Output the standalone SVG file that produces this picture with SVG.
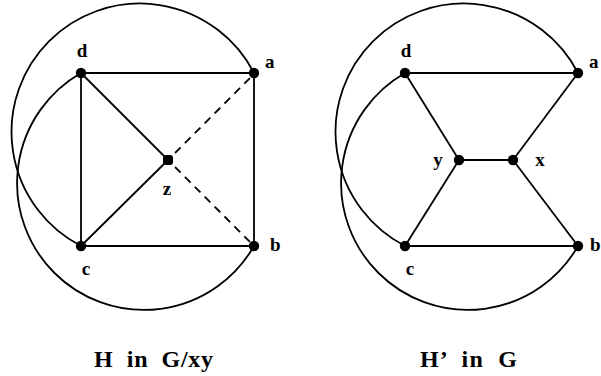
<svg xmlns="http://www.w3.org/2000/svg" width="601" height="376" viewBox="0 0 601 376">
<style>
.e{stroke:#000;stroke-width:1.8;fill:none}
.d{stroke-dasharray:8 6}
.n{fill:#000}
.l{font-family:"Liberation Serif","Times New Roman",serif;font-weight:bold;font-size:19px;fill:#000}
.t{font-family:"Liberation Serif","Times New Roman",serif;font-weight:bold;font-size:24px;fill:#000;white-space:pre}
</style>
<rect width="601" height="376" fill="#fff"/>
<g id="connectors">
<path class="e" d="M254 73 A128.4 128.4 0 1 0 81 246"/>
<path class="e" d="M81 73 A126.8 126.8 0 1 0 254 246"/>
<line class="e" x1="81" y1="73" x2="254" y2="73"/>
<line class="e" x1="81" y1="246" x2="254" y2="246"/>
<line class="e" x1="254" y1="73" x2="254" y2="246"/>
<line class="e" x1="81" y1="73" x2="81" y2="246"/>
<line class="e" x1="81" y1="73" x2="168" y2="160"/>
<line class="e" x1="81" y1="246" x2="168" y2="160"/>
<line class="e d" x1="175" y1="153" x2="250" y2="78"/>
<line class="e d" x1="175" y1="167" x2="250" y2="242"/>
<path class="e" d="M578 73 A128.4 128.4 0 1 0 405 246"/>
<path class="e" d="M405 73 A126.8 126.8 0 1 0 578 246"/>
<line class="e" x1="405" y1="73" x2="578" y2="73"/>
<line class="e" x1="405" y1="246" x2="578" y2="246"/>
<line class="e" x1="405" y1="73" x2="459" y2="160"/>
<line class="e" x1="405" y1="246" x2="459" y2="160"/>
<line class="e" x1="459" y1="160" x2="513" y2="160"/>
<line class="e" x1="513" y1="160" x2="578" y2="73"/>
<line class="e" x1="513" y1="160" x2="578" y2="246"/>
</g>
<g id="L-d"><circle class="n" cx="81" cy="73" r="5.2"/><text class="l" x="82" y="57" text-anchor="middle">d</text></g>
<g id="L-a"><circle class="n" cx="254" cy="73" r="5.2"/><text class="l" x="265" y="68">a</text></g>
<g id="L-b"><circle class="n" cx="254" cy="246" r="5.2"/><text class="l" x="270" y="251">b</text></g>
<g id="L-c"><circle class="n" cx="81" cy="246" r="5.2"/><text class="l" x="86" y="275" text-anchor="middle">c</text></g>
<g id="L-z"><rect class="n" x="163" y="155" width="10" height="10" rx="3"/><text class="l" x="167" y="195" text-anchor="middle">z</text></g>
<g id="R-d"><circle class="n" cx="405" cy="73" r="5.2"/><text class="l" x="406" y="57" text-anchor="middle">d</text></g>
<g id="R-a"><circle class="n" cx="578" cy="73" r="5.2"/><text class="l" x="589" y="68">a</text></g>
<g id="R-b"><circle class="n" cx="578" cy="246" r="5.2"/><text class="l" x="590" y="251">b</text></g>
<g id="R-c"><circle class="n" cx="405" cy="246" r="5.2"/><text class="l" x="410" y="275" text-anchor="middle">c</text></g>
<g id="R-y"><circle class="n" cx="459" cy="160" r="5.2"/><text class="l" x="438" y="166" text-anchor="middle">y</text></g>
<g id="R-x"><circle class="n" cx="513" cy="160" r="5.2"/><text class="l" x="540" y="166" text-anchor="middle">x</text></g>
<g id="title-left"><text class="t" x="94" y="367" textLength="119" lengthAdjust="spacing">H  in  G/xy</text></g>
<g id="title-right"><text class="t" x="420" y="367" textLength="97" lengthAdjust="spacing">H’  in  G</text></g>
</svg>
